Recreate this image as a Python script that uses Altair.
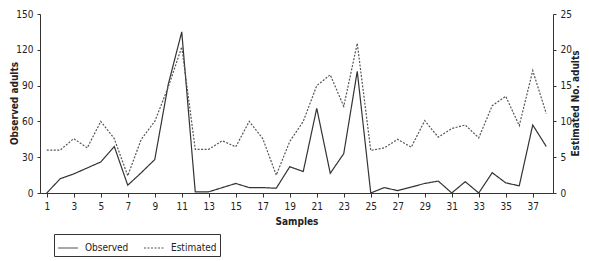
import altair as alt
import pandas as pd

samples = list(range(1, 39))
observed = [0, 12, 16, 21, 26, 39, 6.5, 17, 28, 91, 135, 1, 1, 4.5, 8, 4.5, 4.5, 4,
            22, 18, 71, 16.5, 33, 102, 0, 4.5, 2, 5, 8, 10, 0, 9.5, 0, 17, 8.5, 6, 57, 39]
estimated = [6, 6, 7.6, 6.3, 10, 7.6, 2.4, 7.5, 10, 14.8, 20.4, 6.1, 6.1, 7.3, 6.45, 10,
             7.6, 2.5, 7.2, 10, 15, 16.5, 12.1, 20.9, 5.95, 6.3, 7.5, 6.4, 10.1, 7.8, 9,
             9.5, 7.7, 12.2, 13.5, 9.4, 17.1, 11.1]
series_names = ["Observed", "Estimated"]
x_ticks = list(range(1, 38, 2))
left_ticks = [0, 30, 60, 90, 120, 150]
right_ticks = [0, 5, 10, 15, 20, 25]

df = pd.DataFrame({"sample": samples, "observed": observed, "estimated": estimated})

FONT = "DejaVu Sans Condensed, Liberation Sans Narrow, Liberation Sans, sans-serif"
AX = "#333333"

dash_scale = alt.Scale(domain=series_names, range=[[1, 0], [2, 1.5]])
x_enc = alt.X("sample:Q", scale=alt.Scale(domain=[0.5, 38.5], nice=False, zero=False),
              axis=alt.Axis(values=x_ticks, title="Samples", grid=False, tickSize=4,
                            labelPadding=4, titleY=28, titleBaseline="middle",
                            labelFlush=False))

base = alt.Chart(df)

obs = base.transform_calculate(series="'Observed'").mark_line(
    color="#333333", strokeWidth=1.2
).encode(
    x=x_enc,
    y=alt.Y("observed:Q", scale=alt.Scale(domain=[0, 150], nice=False),
            axis=alt.Axis(values=left_ticks, title="Observed adults", grid=False,
                          tickSize=3, labelPadding=4, titleAngle=270,
                          titleX=-26, titleY=89, titleAlign="center",
                          titleBaseline="middle")),
    strokeDash=alt.StrokeDash("series:N", scale=dash_scale,
                              legend=alt.Legend(title=None, orient="none",
                                                legendX=14, legendY=220,
                                                direction="horizontal",
                                                symbolType="stroke", symbolSize=400,
                                                symbolStrokeColor="#333333",
                                                symbolStrokeWidth=1.2,
                                                strokeColor="#333333",
                                                padding=3, columnPadding=12,
                                                labelOffset=6, labelFontSize=10,
                                                labelFont=FONT, labelColor="#222222")),
)

est = base.transform_calculate(series="'Estimated'").mark_line(
    color="#555555", strokeWidth=1.2
).encode(
    x=x_enc,
    y=alt.Y("estimated:Q", scale=alt.Scale(domain=[0, 25], nice=False),
            axis=alt.Axis(values=right_ticks, title="Estimated No. adults", grid=False,
                          orient="right", tickSize=3, labelPadding=4, titleAngle=270,
                          titleX=22, titleY=89, titleAlign="center",
                          titleBaseline="middle")),
    strokeDash=alt.StrokeDash("series:N", scale=dash_scale),
)

chart = alt.layer(obs, est).resolve_scale(y="independent").properties(
    width=513, height=179,
    autosize=alt.AutoSizeParams(type="none"),
    padding={"left": 32, "top": 6, "right": 28, "bottom": 68},
).configure_view(stroke=None).configure_axis(
    domainColor=AX, tickColor=AX, labelColor="#222222", titleColor="#222222",
    labelFont=FONT, titleFont=FONT, labelFontSize=10, titleFontSize=10,
    titleFontWeight="bold", domainWidth=1,
)

chart.save("out.html", embed_options={"renderer": "svg", "actions": False})
